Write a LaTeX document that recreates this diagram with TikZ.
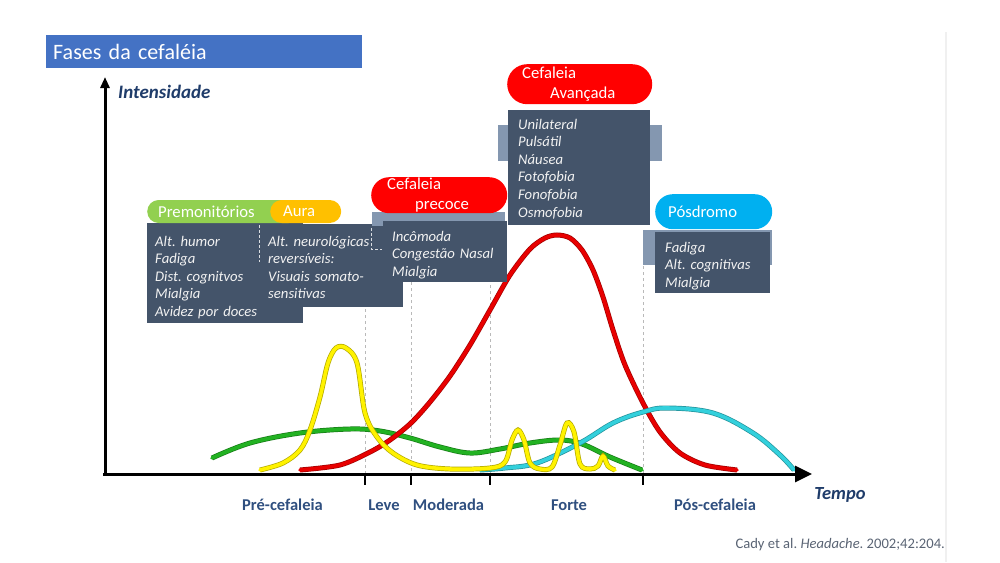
\documentclass[tikz,border=0pt]{standalone}
\usepackage{fontspec}
\setmainfont{Carlito}
\usetikzlibrary{arrows.meta}
\frenchspacing

\definecolor{titleblue}{HTML}{4472C4}
\definecolor{slatebox}{HTML}{44546A}
\definecolor{slatetab}{HTML}{8497B0}
\definecolor{premgreen}{HTML}{92D050}
\definecolor{auraorange}{HTML}{FFC000}
\definecolor{cefred}{HTML}{FF0000}
\definecolor{posblue}{HTML}{00B0F0}
\definecolor{axisblue}{HTML}{2F4F7F}
\definecolor{navytext}{HTML}{1F3C6A}
\definecolor{citegray}{HTML}{5A6474}
\definecolor{curveyellow}{HTML}{FFF200}
\definecolor{curvegreen}{HTML}{22B222}
\definecolor{curvered}{HTML}{E80000}
\definecolor{curvecyan}{HTML}{33D0DC}

\tikzset{
  pill/.style={rounded corners=#1, text=white, inner ysep=0pt, align=left,
    font=\fontsize{16.7}{19.5}\selectfont},
  boxtext/.style={text=white!95!black, anchor=base west, inner sep=0pt,
    text width=160pt, align=left, font=\fontsize{14.7}{17.6}\selectfont\itshape},
  axislabel/.style={anchor=base, text=axisblue, inner sep=0pt,
    font=\fontsize{16.5}{18}\selectfont\bfseries},
  curve/.style={draw=#1, line width=3.6pt, line cap=round, line join=round,
    preaction={draw=#1!70!black, line width=5pt}},
  phaseline/.style={gray!55, line width=0.8pt, dash pattern=on 3pt off 3pt},
  boxmark/.style={white!80!slatebox, line width=0.8pt, dash pattern=on 3pt off 2pt}
}

\begin{document}
\begin{tikzpicture}[x=1pt,y=-1pt]
\useasboundingbox (0,0) rectangle (1000,562);

% title
\node[fill=titleblue, text=white, anchor=north west, minimum width=316pt, minimum height=33pt,
  text width=302pt, inner xsep=7pt, align=left, font=\fontsize{22}{26}\selectfont] (title) at (46,35) {Fases da cefaléia};
\draw[gray!12, line width=1.2pt] (946,32) -- (946,562);

% phase lines
\foreach \tx/\ty in {365/225,411/222,490/225,643/230}
  \draw[phaseline] (\tx,\ty) -- (\tx,474);

% curves
\draw[curve=curvegreen] plot[smooth, tension=0.6] coordinates {(212,458) (250,443) (300,433) (350,429) (380,431) (410,438) (440,447) (470,453) (500,449) (530,443) (560,440) (582,444) (610,457) (642,470)};
\draw[curve=curvered] plot[smooth, tension=0.5] coordinates {(300,470) (340,465) (370,452) (390,440) (411,423) (430,402) (450,376) (470,345) (490,310) (510,275) (530,249) (545,238) (557,235) (570,238) (582,250) (593,270) (603,297) (613,330) (625,365) (643,403) (660,432) (680,453) (705,465) (737,470)};
\draw[curve=curvecyan] plot[smooth, tension=0.6] coordinates {(480,470) (505,468) (537,463) (580,443) (613,423) (643,412) (667,408) (713,413) (753,433) (780,455) (794,470)};
\draw[curve=curveyellow] plot[smooth, tension=0.55] coordinates {(260,470) (283,463) (300,450) (310,430) (320,397) (328,363) (336,348) (346,348) (357,363) (365,413) (377,437) (393,453) (417,465) (450,469) (490,468) (505,462) (512,440) (518,430) (524,440) (530,463) (540,469) (552,467) (560,445) (567,423) (574,432) (580,464) (590,469) (598,466) (603,456) (608,466) (615,470)};

% axes
\coordinate (origin) at (105,474);
\coordinate (ytop) at (105,77);
\coordinate (xstart) at (103,474);
\coordinate (xend) at (812,474);
\draw[line width=3pt, -{Triangle[length=11pt,width=9pt]}] (origin) -- (ytop);
\draw[line width=3pt, -{Triangle[length=17pt,width=16pt]}] (xstart) -- (xend);
\foreach \tx in {365,411,490,643}
  \draw[line width=1.5pt] (\tx,474) -- (\tx,485);

\node[anchor=base west, text=navytext, inner sep=0pt, font=\fontsize{19}{21}\selectfont\bfseries\itshape] (intens) at (118,98) {Intensidade};
\node[anchor=base, text=navytext, inner sep=0pt, font=\fontsize{18.5}{21}\selectfont\bfseries\itshape] (tempo) at (840,499) {Tempo};

\node[axislabel] (pre) at (282.5,510) {Pré-cefaleia};
\node[axislabel] (leve) at (384,510) {Leve};
\node[axislabel] (moder) at (448.5,510) {Moderada};
\node[axislabel] (forte) at (569,510) {Forte};
\node[axislabel] (pos) at (715,510) {Pós-cefaleia};

% boxes
\fill[slatebox] (147,223) rectangle (303,323);
\node[boxtext] (premtext) at (155,246) {Alt. humor\\Fadiga\\Dist. cognitvos\\Mialgia\\Avidez por doces};
\fill[slatebox] (260,224) rectangle (403,307);
\draw[boxmark] (259,225) -- (259,262);
\draw[boxmark] (371,228) -- (371,249) -- (382,249);
\node[boxtext] (auratext) at (268,246) {Alt. neurológicas\\reversíveis:\\Visuais somato-\\sensitivas};

\fill[slatetab] (372,212) rectangle (505,226);
\fill[slatebox] (383,221) rectangle (507,282);
\node[boxtext] (precocetext) at (392,241) {Incômoda\\Congestão Nasal\\Mialgia};

\fill[slatetab] (498,125) rectangle (662,161);
\fill[slatebox] (508,110) rectangle (650,225);
\node[boxtext] (avancadatext) at (518,129) {Unilateral\\Pulsátil\\Náusea\\Fotofobia\\Fonofobia\\Osmofobia};

\fill[slatetab] (643,230) rectangle (772,265);
\fill[slatebox] (655,232) rectangle (770,293);
\node[boxtext] (postext) at (665,252) {Fadiga\\Alt. cognitivas\\Mialgia};

% pills
\node[pill=11.5pt, fill=premgreen, minimum height=23pt, inner xsep=11pt, text width=131pt, anchor=west] (prem) at (147,211.5) {Premonitórios};
\node[pill=11.5pt, fill=auraorange, minimum height=23pt, inner xsep=13pt, text width=45pt, anchor=west] (aura) at (270,211.5) {Aura};
\node[pill=18pt, fill=cefred, minimum height=36pt, inner xsep=16pt, text width=104pt, anchor=north west] (precoce) at (371,177) {Cefaleia\\\hspace*{28pt}precoce};
\node[pill=20pt, fill=cefred, minimum height=40pt, inner xsep=15pt, text width=115pt, anchor=north west] (avancada) at (507,64) {Cefaleia\\\hspace*{28pt}Avançada};
\node[pill=17.5pt, fill=posblue, minimum height=35pt, inner xsep=13pt, text width=91pt, anchor=north west] (posdromo) at (655,194) {Pósdromo};

\node[anchor=base east, text=citegray, inner sep=0pt, font=\fontsize{14.6}{16}\selectfont] (cite) at (945,548) {Cady et al. \textit{Headache}. 2002;42:204.};
\end{tikzpicture}
\end{document}
